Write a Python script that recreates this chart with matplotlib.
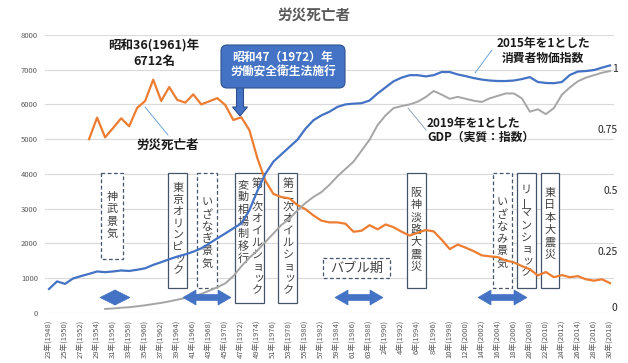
import numpy as np
import matplotlib
matplotlib.use('Agg')
import matplotlib.pyplot as plt
import matplotlib.transforms as mtransforms
from matplotlib.patches import Rectangle, Polygon, FancyBboxPatch

plt.rcParams['font.family'] = ['Noto Sans CJK JP', 'DejaVu Sans']

# --- données ---
# 労災死亡者 (人), à partir de 1953
deaths_start = 1953
deaths = [5000, 5620, 5050, 5320, 5600, 5370, 5900, 6100, 6712, 6100,
          6500, 6130, 6050, 6290, 6000, 6090, 6180, 5980, 5550, 5630,
          5260, 4450, 3800, 3420, 3330, 3290, 3100, 2980, 2800, 2650,
          2600, 2600, 2560, 2330, 2360, 2520, 2400, 2540, 2460, 2330,
          2220, 2300, 2380, 2340, 2100, 1830, 1960, 1870, 1770, 1650,
          1620, 1600, 1500, 1450, 1340, 1250, 1070, 1170, 1020, 1080,
          1020, 1050, 960, 920, 960, 850]

# 消費者物価指数 (2015年=1), à partir de 1948
cpi_start = 1948
cpi = [0.097, 0.128, 0.118, 0.140, 0.150, 0.159, 0.169, 0.166, 0.169, 0.173,
       0.171, 0.176, 0.182, 0.196, 0.207, 0.219, 0.230, 0.239, 0.250, 0.264,
       0.284, 0.305, 0.325, 0.346, 0.366, 0.420, 0.500, 0.570, 0.620, 0.650,
       0.680, 0.710, 0.755, 0.790, 0.810, 0.825, 0.845, 0.855, 0.858, 0.860,
       0.871, 0.900, 0.925, 0.950, 0.965, 0.975, 0.975, 0.970, 0.975, 0.988,
       0.988, 0.978, 0.971, 0.963, 0.957, 0.953, 0.951, 0.951, 0.953, 0.959,
       0.967, 0.947, 0.943, 0.942, 0.947, 0.976, 0.990, 0.992, 0.996, 1.006,
       1.015]

# GDP 実質指数 (2019年=1), à partir de 1955
gdp_start = 1955
gdp = [0.015, 0.017, 0.020, 0.022, 0.026, 0.030, 0.035, 0.040, 0.046, 0.053,
       0.060, 0.066, 0.077, 0.090, 0.104, 0.120, 0.150, 0.190, 0.225, 0.255,
       0.290, 0.325, 0.360, 0.385, 0.420, 0.450, 0.475, 0.495, 0.525, 0.560,
       0.590, 0.620, 0.665, 0.710, 0.770, 0.810, 0.840, 0.848, 0.855, 0.866,
       0.885, 0.910, 0.895, 0.878, 0.886, 0.878, 0.870, 0.865, 0.880, 0.890,
       0.900, 0.900, 0.880, 0.825, 0.835, 0.815, 0.840, 0.895, 0.925, 0.950,
       0.965, 0.975, 0.985, 0.992]

tick_years = list(range(1948, 2019, 2))
tick_labels = ['23年(1948)', '25年(1950)', '27年(1952)', '29年(1954)', '31年(1956)',
               '33年(1958)', '35年(1960)', '37年(1962)', '39年(1964)', '41年(1966)',
               '43年(1968)', '45年(1970)', '47年(1972)', '49年(1974)', '51年(1976)',
               '53年(1978)', '55年(1980)', '57年(1982)', '59年(1984)', '61年(1986)',
               '63年(1988)', '2年(1990)', '4年(1992)', '6年(1994)', '8年(1996)',
               '10年(1998)', '12年(2000)', '14年(2002)', '16年(2004)', '18年(2006)',
               '20年(2008)', '22年(2010)', '24年(2012)', '26年(2014)', '28年(2016)',
               '30年(2018)']
left_ticks = list(range(0, 8001, 1000))
right_ticks = [0, 0.25, 0.5, 0.75, 1]
right_labels = ['0', '0.25', '0.5', '0.75', '1']

# --- figure ---
W, H = 628, 363
fig = plt.figure(figsize=(W / 100, H / 100), dpi=100)
ax = fig.add_axes([45 / W, 1 - 312.6 / H, (614 - 45) / W, (312.6 - 35) / H])
ax2 = ax.twinx()

# coordonnées en pixels (origine en haut à gauche) pour les annotations
pix = mtransforms.Affine2D().scale(1, -1).translate(0, H)

ax.set_xlim(1947.5, 2018.5)
ax.set_ylim(0, 8000)
ax2.set_ylim(0, 1.14)
ax.set_yticks(left_ticks)
ax.set_xticks(tick_years)
ax.set_xticklabels(tick_labels, rotation=90, fontsize=5.5, color='#595959')
ax.tick_params(axis='y', length=0, labelsize=5.5, labelcolor='#595959', pad=5)
ax.tick_params(axis='x', length=0, pad=5)
ax.grid(axis='y', color='#D9D9D9', lw=0.8, zorder=0)
ax.set_axisbelow(True)
ax2.set_yticks([])
for a in (ax, ax2):
    for s in a.spines.values():
        s.set_visible(False)

for v, lab in zip(right_ticks, right_labels):
    ax2.text(1.006, v, lab, transform=ax2.get_yaxis_transform(), ha='right',
             va='center' if v > 0 else 'bottom', fontsize=7.5, color='#262626')

# courbes
ax.plot(np.arange(deaths_start, deaths_start + len(deaths)), deaths,
        color='#ED7D31', lw=1.6, zorder=5)
ax2.plot(np.arange(cpi_start, cpi_start + len(cpi)), cpi,
         color='#4472C4', lw=1.6, zorder=3)
ax2.plot(np.arange(gdp_start, gdp_start + len(gdp)), gdp,
         color='#A5A5A5', lw=1.4, zorder=3)

# --- encadrés verticaux (événements) ---
small_kana = 'ァィゥェォッャュョ'


def vtext(axis, x, y0, s, pitch=12.0, size=8):
    for i, ch in enumerate(s):
        dx = 1.2 if ch in small_kana else 0
        axis.text(x + dx, y0 + i * pitch, ch, transform=pix, ha='center',
                  va='center', rotation=90 if ch == 'ー' else 0, fontsize=size,
                  color='#404040', zorder=4, clip_on=False)


events = [
    (101, 123, 259, 'dashed', [('神武景気', 112, 197)]),
    (168, 187, 288, 'solid', [('東京オリンピック', 178, 188)]),
    (197, 217, 288, 'dashed', [('いざなぎ景気', 207, 202)]),
    (235, 264, 303, 'solid', [('変動相場制移行', 243, 185), ('第一次オイルショック', 257, 184)]),
    (278, 297, 303, 'solid', [('第二次オイルショック', 288, 184)]),
    (407, 426, 288, 'solid', [('阪神淡路大震災', 416, 193)]),
    (493, 512, 288, 'dashed', [('いざなみ景気', 502, 202)]),
    (517, 536, 288, 'solid', [('リーマンショック', 526, 190)]),
    (541, 559, 288, 'solid', [('東日本大震災', 550, 193)]),
]
for x0, x1, y1, style, texts in events:
    ls = (0, (3, 2)) if style == 'dashed' else '-'
    ax.add_patch(Rectangle((x0, 173), x1 - x0, y1 - 173, transform=pix,
                           fc='white', ec='#44546A', lw=0.9, ls=ls,
                           zorder=2, clip_on=False))
    for s, tx, ty in texts:
        pitch = 11.8 if len(s) > 7 else 12.3
        vtext(ax, tx, ty, s, pitch=pitch)

# バブル期 (horizontal)
ax.add_patch(Rectangle((323, 258), 67, 20, transform=pix, fc='white', ec='#44546A',
                       lw=0.9, ls=(0, (3, 2)), zorder=2, clip_on=False))
ax.text(356.5, 268, 'バブル期', transform=pix, ha='center', va='center',
        fontsize=9.5, color='#404040', zorder=4)


# flèches doubles (périodes de croissance)
def darrow(x0, x1, yc, hl, hh, sh):
    pts = [(x0, yc), (x0 + hl, yc - hh), (x0 + hl, yc - sh), (x1 - hl, yc - sh),
           (x1 - hl, yc - hh), (x1, yc), (x1 - hl, yc + hh), (x1 - hl, yc + sh),
           (x0 + hl, yc + sh), (x0 + hl, yc + hh)]
    ax2.add_patch(Polygon(pts, closed=True, transform=pix, fc='#4472C4',
                          ec='#4472C4', lw=0.5, zorder=6, clip_on=False))


darrow(100, 130, 297.5, 15, 7.5, 0)
darrow(183, 231, 297.5, 13, 7.5, 3)
darrow(335, 383, 297.5, 13, 7.5, 3)
darrow(478, 527, 297.5, 13, 7.5, 3)

# --- bulle 1972 ---
ax2.add_patch(Polygon([(236.5, 80), (243.5, 80), (243.5, 107), (247.5, 107),
                       (240, 116), (232.5, 107), (236.5, 107)], closed=True,
                      transform=pix, fc='#4472C4', ec='#2F528F', lw=0.8,
                      zorder=9, clip_on=False))
ax2.add_patch(FancyBboxPatch((221, 45), 124, 43, boxstyle='round,pad=0,rounding_size=6',
                             transform=pix, fc='#4472C4', ec='#2F528F', lw=0.8,
                             zorder=10, clip_on=False))
ax2.text(283, 57, '昭和47（1972）年', transform=pix, ha='center', va='center',
         fontsize=8.5, color='white', fontweight='bold', zorder=11)
ax2.text(283, 72, '労働安全衛生法施行', transform=pix, ha='center', va='center',
         fontsize=8.5, color='white', fontweight='bold', zorder=11)

# --- textes libres ---
txt = dict(transform=pix, va='center', color='#1A1A1A', fontweight='bold',
           zorder=11, clip_on=False)
ax2.text(154, 46, '昭和36(1961)年', ha='center', fontsize=9, **txt)
ax2.text(154, 61, '6712名', ha='center', fontsize=9, **txt)
ax2.text(168, 145, '労災死亡者', ha='center', fontsize=9, **txt)
ax2.text(543, 44, '2015年を1とした', ha='center', fontsize=8.5, **txt)
ax2.text(543, 58, '消費者物価指数', ha='center', fontsize=8.5, **txt)
ax2.text(427, 123, '2019年を1とした', ha='left', fontsize=8.5, **txt)
ax2.text(427, 137, 'GDP（実質：指数）', ha='left', fontsize=8.5, **txt)

for (xa, ya), (xb, yb), c in [((145, 107), (168, 135), '#5B9BD5'),
                              ((492, 50), (475, 73), '#5B9BD5'),
                              ((408, 108), (426, 130), '#8496B0')]:
    ax2.plot([xa, xb], [ya, yb], transform=pix, color=c, lw=0.6, zorder=8,
             clip_on=False)

fig.text(314 / W, 1 - 15 / H, '労災死亡者', ha='center', va='center',
         fontsize=10.5, fontweight='bold', color='#595959')

fig.savefig('out.png', dpi=100)
